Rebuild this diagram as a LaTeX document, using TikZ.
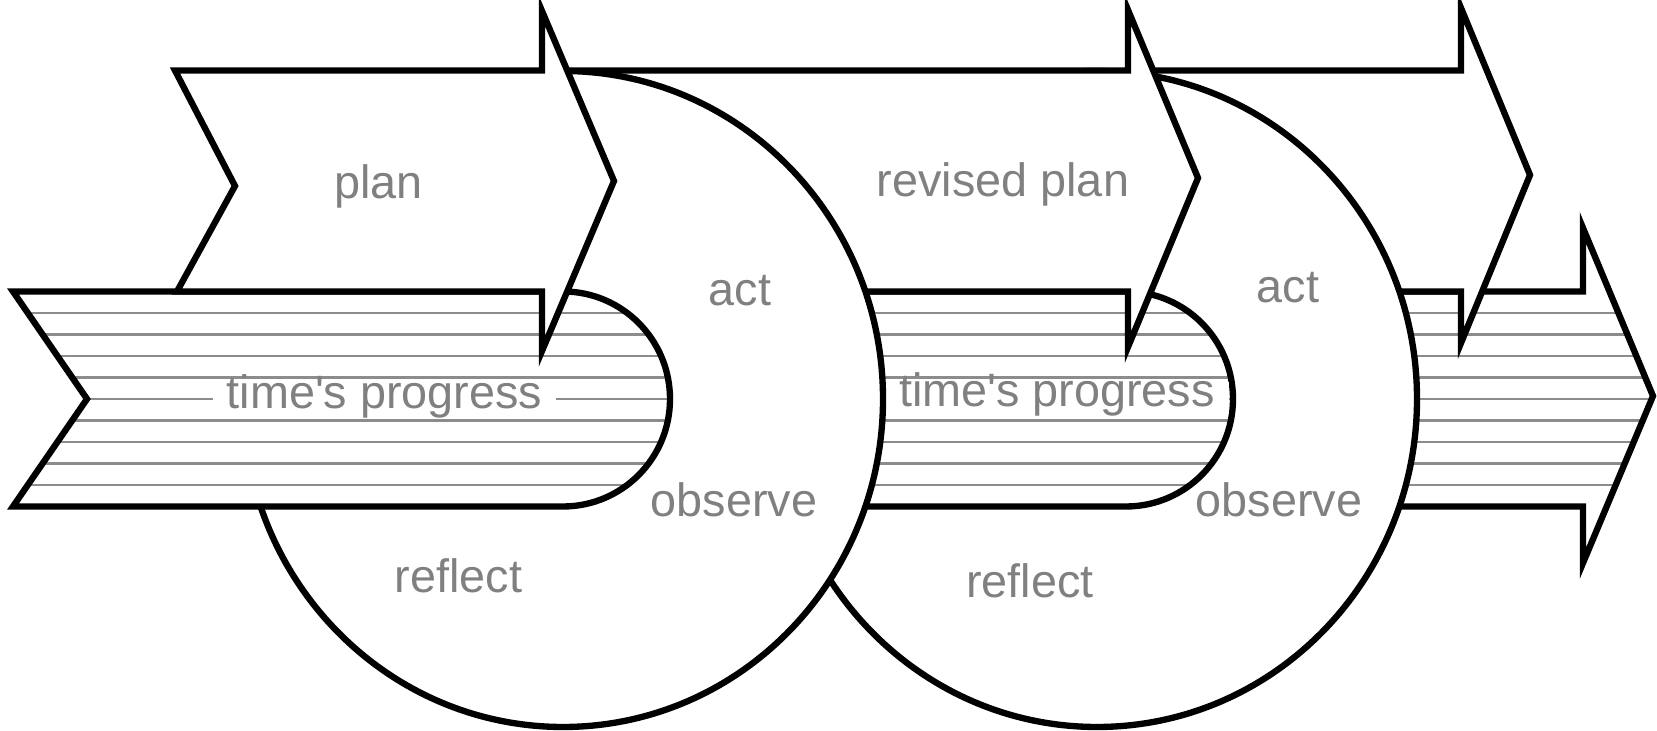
\documentclass[tikz,border=0pt]{standalone}
\usepackage{fontspec}
\setmainfont{Liberation Sans}
\usepackage{tikz}
\usetikzlibrary{
  calc                      % 坐标计算
}
\tikzset{
  outline/.style={
    draw=black,
    line width=1.8pt,
    line join=miter
  },
  hatch line/.style={
    draw=black!45,
    line width=0.6pt
  },
  hatched/.style={
    path picture={
      \foreach \k in {1,...,9}
        \draw[hatch line] (0,224.5+21.5*\k) -- (1657,224.5+21.5*\k);
    }
  },
  cycle label/.style={
    font=\fontsize{13.3}{16}\selectfont,
    text=black!50,
    inner sep=0pt,
    anchor=base
  },
  time label/.style={
    cycle label,
    fill=white,
    inner xsep=4pt,
    inner ysep=0pt,
    text height=7pt,
    text depth=2pt
  }
}

\begin{document}
\begin{tikzpicture}[x=0.01cm, y=0.01cm] % 以 0.01cm 为一个像素单位：先画最右一轮，再向左逐层叠放，后画的盖住先画的
  \useasboundingbox (0,0) rectangle (1657,731); % 固定画面大小

  % 圆心与公共高度
  \coordinate (C1) at (563,332);   % 第一轮圆环中心
  \coordinate (C2) at (1097,332);  % 第二轮圆环中心

  % 第三段时间箭头（最右，带箭头头部）
  \draw[outline, fill=white, hatched] (1350,439.5) -- (1583,439.5) -- (1583,503) -- (1653,335) -- (1583,168) -- (1583,224.5) -- (1350,224.5) -- cycle;

  % 下一轮计划箭头（左端藏在第二个圆后面）
  \draw[outline, fill=white] (1140,660.5) -- (1461,660.5) -- (1461,723) -- (1530,556) -- (1461,388) -- (1461,439.5) -- (1140,439.5) -- cycle;

  % 第二轮圆环 act / observe / reflect
  \draw[outline, fill=white] (C2) ellipse [x radius=320, y radius=328];

  % 第二段时间箭头（圆头伸入第二个圆）
  \draw[outline, fill=white, hatched] (800,439.5) -- (1126,439.5) arc[start angle=90, end angle=-90, x radius=107, y radius=107.5] -- (800,224.5) -- cycle;
  \node[time label] (time2) at (1057,324) {time\textquotesingle s progress}; % 第二段时间标注

  % 修订计划箭头
  \draw[outline, fill=white] (560,660.5) -- (1128,660.5) -- (1128,721) -- (1198,553) -- (1128,384) -- (1128,439.5) -- (560,439.5) -- cycle;

  % 第一轮圆环
  \draw[outline, fill=white] (C1) ellipse [x radius=320, y radius=328];

  % 第一段时间箭头（左端为燕尾）
  \draw[outline, fill=white, hatched] (13,439.5) -- (563,439.5) arc[start angle=90, end angle=-90, x radius=107, y radius=107.5] -- (13,224.5) -- (87,332) -- cycle;
  \node[time label] (time1) at (384.5,322) {time\textquotesingle s progress}; % 第一段时间标注

  % 计划箭头（最上层，箭头尖压在时间箭头上）
  \draw[outline, fill=white] (175,660.5) -- (542,660.5) -- (542,720) -- (614,550) -- (542,380) -- (542,439.5) -- (177,439.5) -- (235,545) -- cycle;

  % 各阶段文字
  \node[cycle label] (plan) at (378.5,532) {plan};             % 计划
  \node[cycle label] (revplan) at (1003,534) {revised plan};   % 修订计划
  \node[cycle label] (act1) at (740,425) {act};                % 第一轮行动
  \node[cycle label] (obs1) at (734,214) {observe};            % 第一轮观察
  \node[cycle label] (refl1) at (458.5,138) {reflect};         % 第一轮反思
  \node[cycle label] (act2) at (1288,428) {act};               % 第二轮行动
  \node[cycle label] (obs2) at (1279,214) {observe};           % 第二轮观察
  \node[cycle label] (refl2) at (1030,133) {reflect};          % 第二轮反思

\end{tikzpicture}
\end{document}
